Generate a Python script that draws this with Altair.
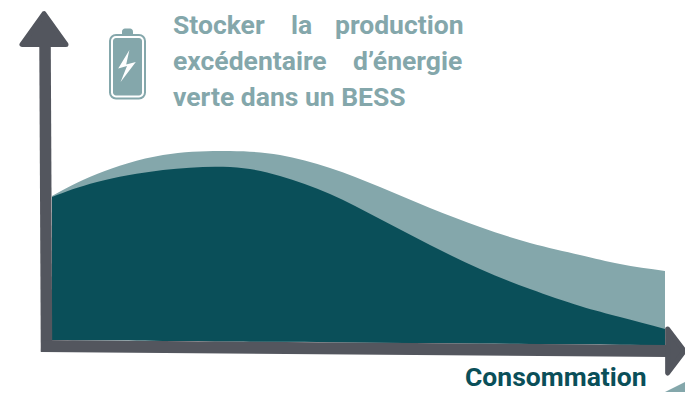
import altair as alt
import pandas as pd

DARK = "#0A4F59"
LIGHT = "#84A7AB"
GREY = "#53565E"

top_x = [52, 97, 163, 230, 280, 330, 380, 430, 480, 530, 580, 620, 665]
top_y = [196, 174, 155, 151, 155, 168, 187, 208, 227, 243, 255, 264, 271]
dark_x = [52, 97, 163, 230, 280, 330, 380, 430, 480, 530, 580, 620, 665]
dark_y = [197, 182, 170, 167, 176, 194, 219, 245, 269, 289, 306, 317, 329]
base_x = [52, 665]
base_y = [340, 345]

yaxis_x = [45, 46.5]
yaxis_y = [40, 346]
xaxis_x = [41, 668]
xaxis_y = [346, 351]

wedge_x = [665, 685]
wedge_y = [392, 382]
wedge_y2 = [392, 392]

words_x = [173, 291, 335, 173, 353, 173]
words_y = [34, 34, 34, 70, 70, 106]
words = ["Stocker", "la", "production", "excédentaire", "d’énergie", "verte dans un BESS"]

W, H = 677, 384
xs = alt.Scale(domain=[8, 685], nice=False, zero=False)
ys = alt.Scale(domain=[392, 8], nice=False, zero=False)


def X(f="x"):
    return alt.X(f"{f}:Q", scale=xs, axis=None)


def Y(f="y"):
    return alt.Y(f"{f}:Q", scale=ys, axis=None)


def base_interp(x):
    t = (x - base_x[0]) / (base_x[1] - base_x[0])
    return base_y[0] + t * (base_y[1] - base_y[0])


light_area = alt.Chart(pd.DataFrame({
    "x": top_x, "y": top_y, "y2": [base_interp(v) for v in top_x]
})).mark_area(color=LIGHT, interpolate="natural", opacity=1).encode(
    x=X(), y=Y(), y2="y2:Q")

dark_area = alt.Chart(pd.DataFrame({
    "x": dark_x, "y": dark_y, "y2": [base_interp(v) for v in dark_x]
})).mark_area(color=DARK, interpolate="natural", opacity=1).encode(
    x=X(), y=Y(), y2="y2:Q")

wedge = alt.Chart(pd.DataFrame({"x": wedge_x, "y": wedge_y, "y2": wedge_y2})).mark_area(
    color=LIGHT, opacity=1).encode(x=X(), y=Y(), y2="y2:Q")

y_shaft = alt.Chart(pd.DataFrame({"x": yaxis_x, "y": yaxis_y, "o": [0, 1]})).mark_line(
    color=GREY, strokeWidth=11.5, strokeCap="square").encode(
    x=X(), y=Y(), order="o:Q")
x_shaft = alt.Chart(pd.DataFrame({"x": xaxis_x, "y": xaxis_y})).mark_line(
    color=GREY, strokeWidth=12, strokeCap="butt").encode(x=X(), y=Y())

head_up = alt.Chart(pd.DataFrame({"x": [44], "y": [29]})).mark_point(
    shape="M-1,0.7L1,0.7L0,-0.7Z", size=1936, filled=True, fill=GREY, stroke=GREY,
    strokeWidth=5, strokeJoin="round", opacity=1).encode(x=X(), y=Y())
head_right = alt.Chart(pd.DataFrame({"x": [676], "y": [351]})).mark_point(
    shape="M-0.38,-1L0.38,0L-0.38,1Z", size=1936, filled=True, fill=GREY, stroke=GREY,
    strokeWidth=5, strokeJoin="round", opacity=1).encode(x=X(), y=Y())

batt_nub = alt.Chart(pd.DataFrame({"x": [122], "x2": [133], "y": [28.5], "y2": [38]})).mark_rect(
    color=LIGHT, cornerRadius=3).encode(x=X(), x2="x2:Q", y=Y(), y2="y2:Q")
batt_outer = alt.Chart(pd.DataFrame({"x": [110], "x2": [145], "y": [35], "y2": [98.5]})).mark_rect(
    fill="white", stroke=LIGHT, strokeWidth=2, cornerRadius=6).encode(
    x=X(), x2="x2:Q", y=Y(), y2="y2:Q")
batt_inner = alt.Chart(pd.DataFrame({"x": [113], "x2": [142], "y": [38], "y2": [95.5]})).mark_rect(
    color=LIGHT, cornerRadius=3).encode(x=X(), x2="x2:Q", y=Y(), y2="y2:Q")
bolt = alt.Chart(pd.DataFrame({"x": [127], "y": [66]})).mark_point(
    shape="M0.15,-1L-0.55,0.15L0,0L-0.4,1L0.55,-0.25L-0.05,-0.1Z", size=1024,
    filled=True, fill="white", strokeWidth=0, opacity=1).encode(x=X(), y=Y())

label = alt.Chart(pd.DataFrame({"x": words_x, "y": words_y, "t": words})).mark_text(
    font="Roboto", fontSize=26.5, fontWeight="bold", color=LIGHT, align="left",
    baseline="alphabetic").encode(x=X(), y=Y(), text="t:N")
xlabel = alt.Chart(pd.DataFrame({"x": [465], "y": [386], "t": ["Consommation"]})).mark_text(
    font="Roboto", fontSize=26.5, fontWeight="bold", color=DARK, align="left",
    baseline="alphabetic").encode(x=X(), y=Y(), text="t:N")

chart = alt.layer(
    light_area, dark_area, wedge, y_shaft, x_shaft, head_up, head_right,
    batt_nub, batt_outer, batt_inner, bolt, label, xlabel,
).properties(width=W, height=H, padding=0, autosize=alt.AutoSizeParams(type="none")).configure_view(stroke=None)

chart.save("out.html", embed_options={"renderer": "svg", "actions": False})
